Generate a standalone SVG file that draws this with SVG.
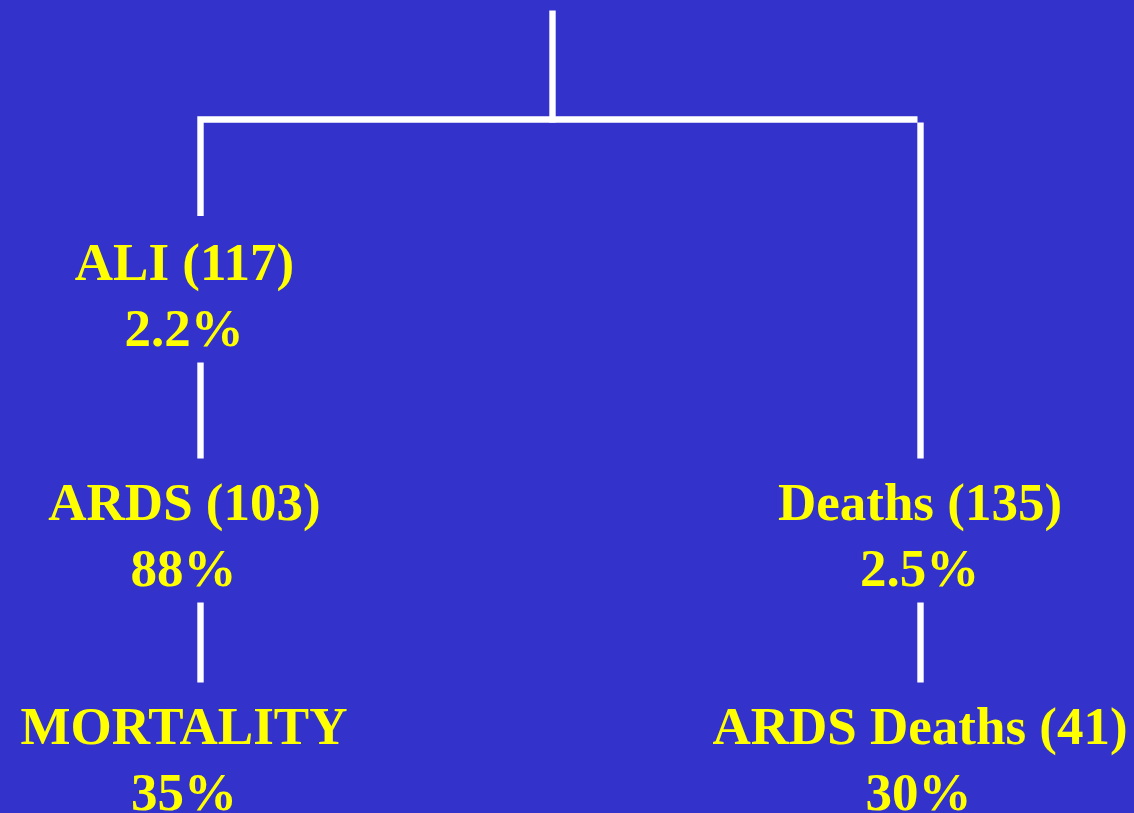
<svg xmlns="http://www.w3.org/2000/svg" width="1134" height="813" viewBox="0 0 1134 813">
  <style>
    .link { stroke: #FFFFFF; stroke-width: 6.4; fill: none; stroke-linecap: butt; }
    .label { font-family: "Liberation Serif", "Times New Roman", serif; font-weight: bold; font-size: 53px; fill: #FFFF00; text-anchor: middle; }
  </style>
  <rect x="0" y="0" width="1134" height="813" fill="#3333CC"/>

  <!-- tree connectors -->
  <g id="connectors">
    <line class="link" x1="552.5" y1="10.5" x2="552.5" y2="122.5"/>
    <polyline class="link" points="200.5,216 200.5,119.5 917.5,119.5"/>
    <line class="link" x1="920.5" y1="122.5" x2="920.5" y2="458.5"/>
    <line class="link" x1="200.5" y1="362.5" x2="200.5" y2="458.5"/>
    <line class="link" x1="200.5" y1="602.5" x2="200.5" y2="682.5"/>
    <line class="link" x1="920.5" y1="602.5" x2="920.5" y2="682.5"/>
  </g>

  <g id="node-ali">
    <text class="label" x="184.5" y="280">ALI (117)</text>
    <text class="label" x="184" y="346">2.2%</text>
  </g>
  <g id="node-ards">
    <text class="label" x="184.5" y="520">ARDS (103)</text>
    <text class="label" x="183.5" y="586">88%</text>
  </g>
  <g id="node-mortality">
    <text class="label" x="184" y="744">MORTALITY</text>
    <text class="label" x="184" y="810">35%</text>
  </g>
  <g id="node-deaths">
    <text class="label" x="920" y="520">Deaths (135)</text>
    <text class="label" x="919.5" y="586">2.5%</text>
  </g>
  <g id="node-ards-deaths">
    <text class="label" x="920" y="744">ARDS Deaths (41)</text>
    <text class="label" x="918.5" y="810">30%</text>
  </g>
</svg>
